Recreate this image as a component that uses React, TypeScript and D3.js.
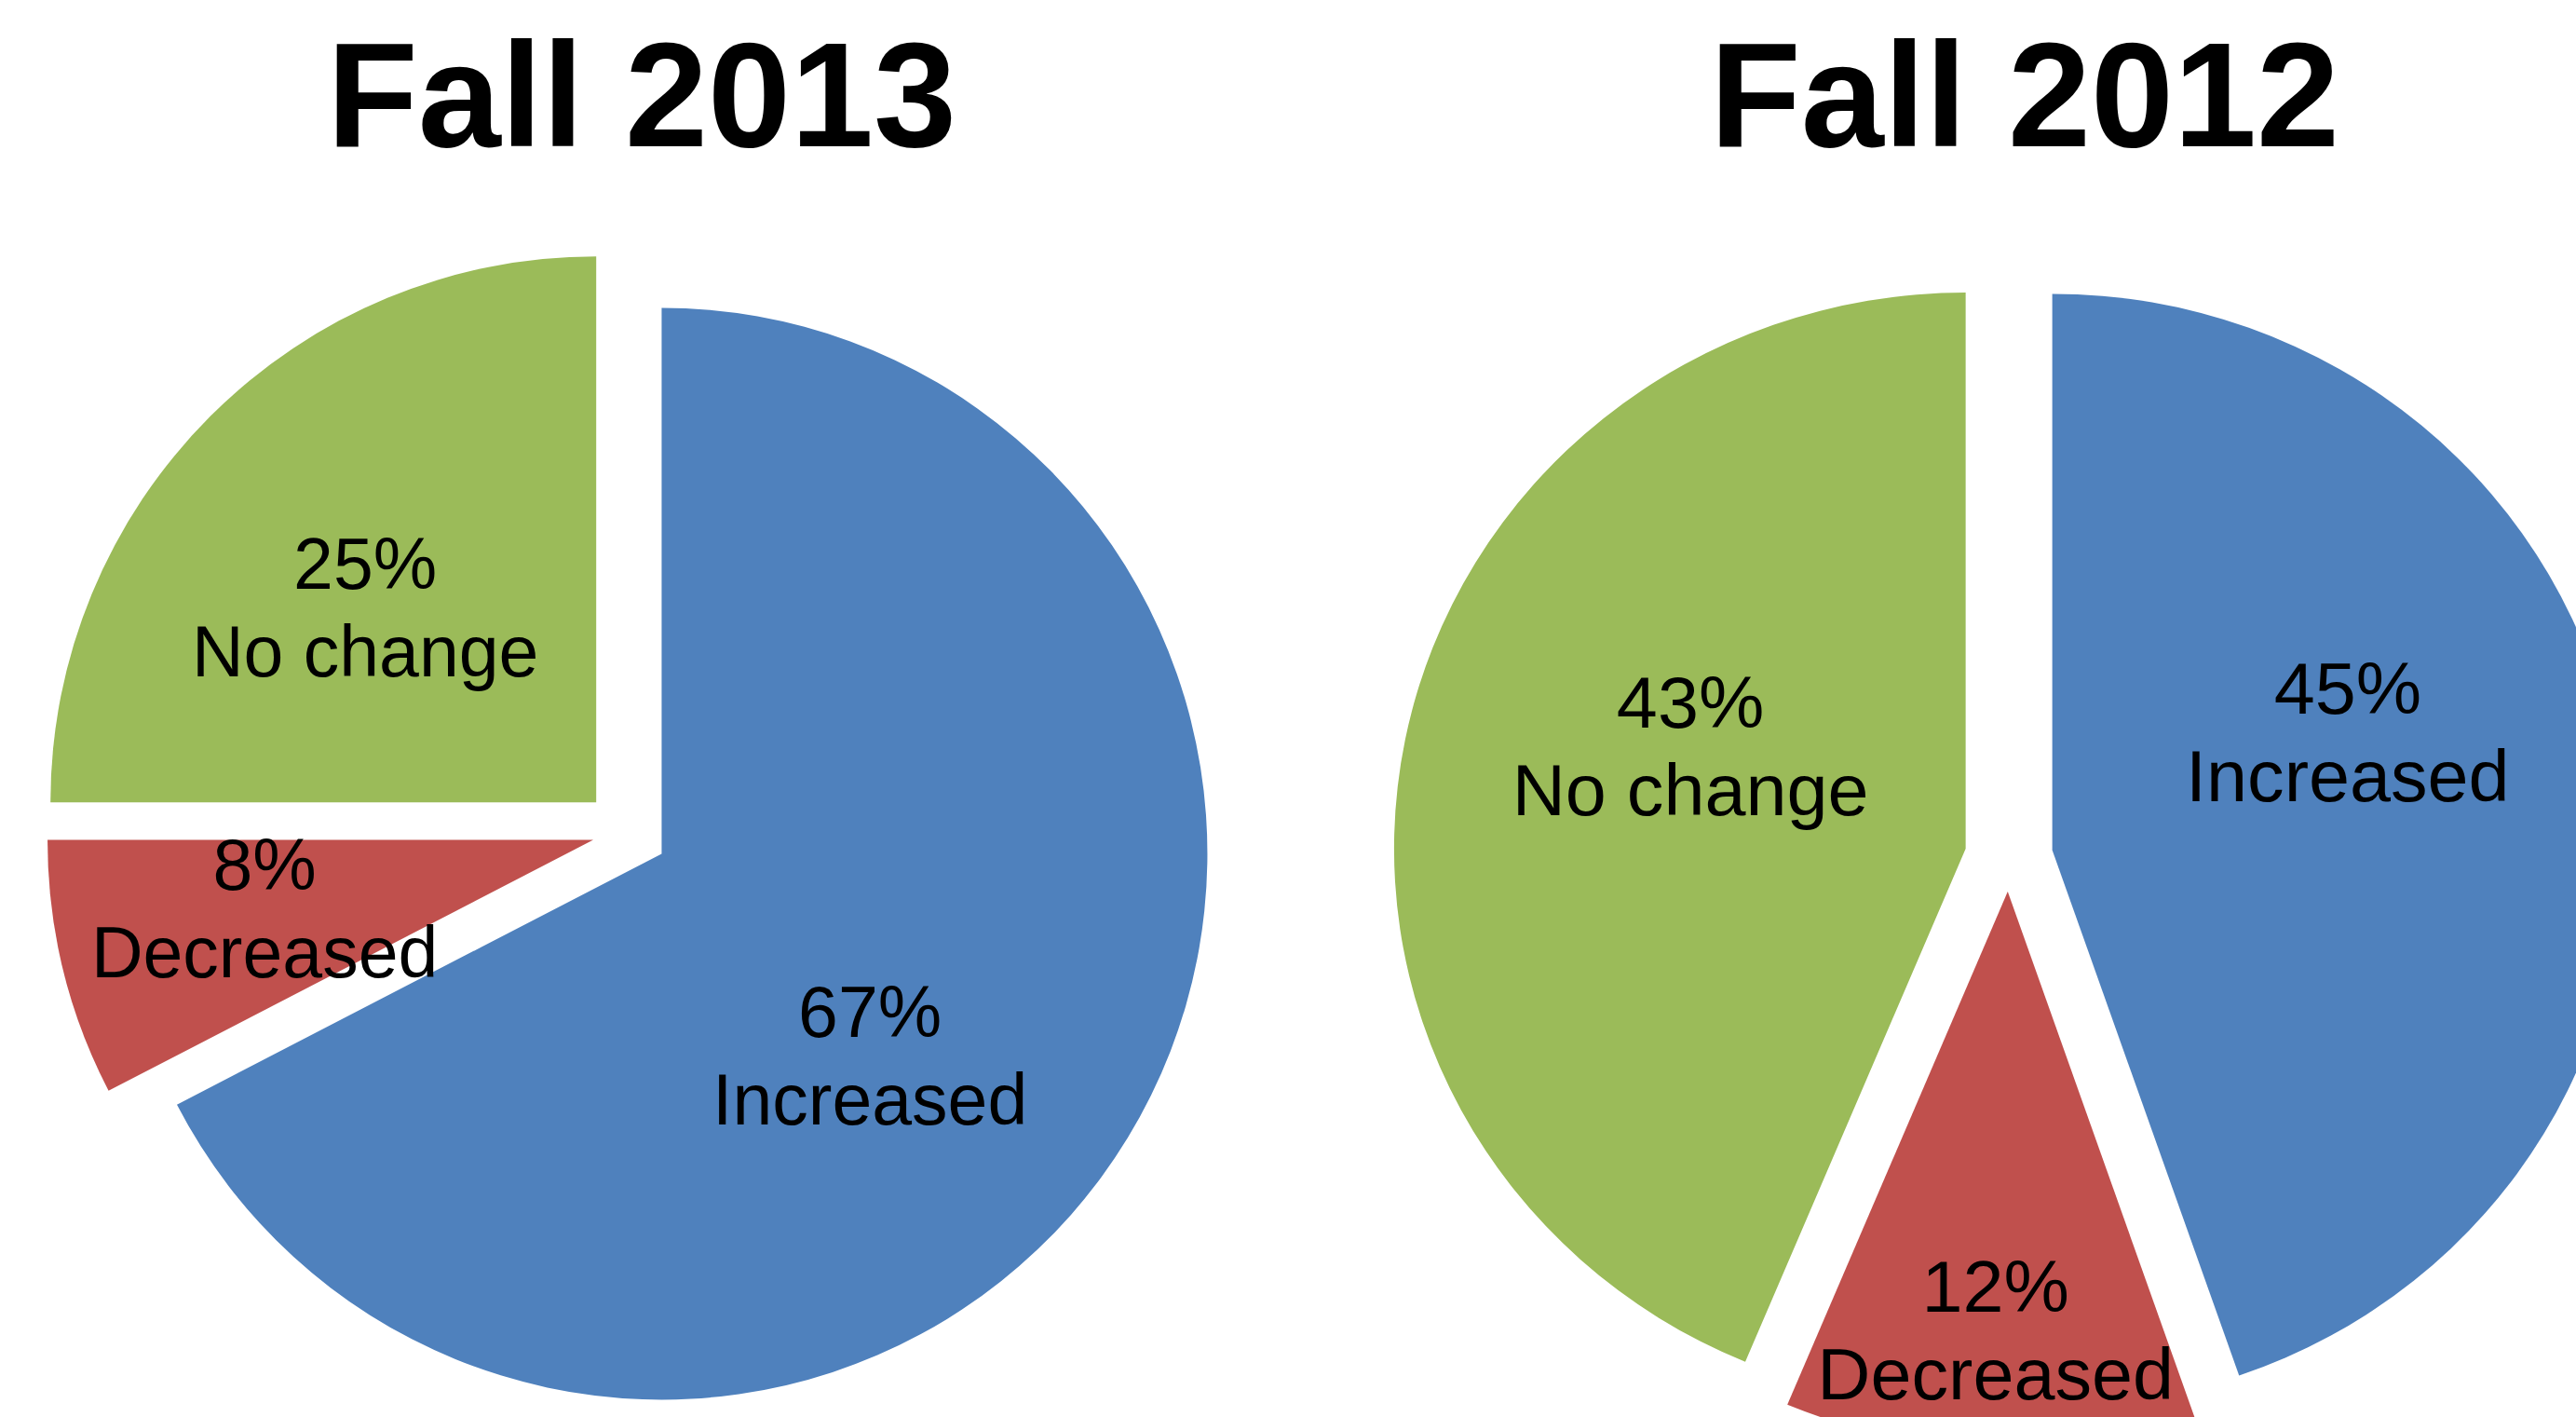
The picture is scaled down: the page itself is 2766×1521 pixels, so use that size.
import React, { useRef, useEffect } from "react";
import * as d3 from "d3";

const categories = ["Increased", "Decreased", "No change"];
// slice shares
const fall2013 = [67.4, 7.6, 25];
const fall2012 = [44.7, 11.6, 43.7];
// percentages as printed on the slices
const labels2013 = ["67%", "8%", "25%"];
const labels2012 = ["45%", "12%", "43%"];
const colors = ["#4F81BD", "#C0504D", "#9BBB59"];

// where each label sits inside its slice: [angle shift (deg), radius fraction]
const labelNudge2013 = [
  [12.6, 0.53],
  [2.0, 0.615],
  [-4.7, 0.555],
];
const labelNudge2012 = [
  [-12.85, 0.559],
  [-0.25, 0.788],
  [9.7, 0.516],
];

const charts = [
  {
    title: "Fall 2013",
    values: fall2013,
    labels: labels2013,
    nudge: labelNudge2013,
    cx: 672,
    cy: 893,
    r: 586,
    explode: [45, 36, 45],
    sx: 1,
  },
  {
    title: "Fall 2012",
    values: fall2012,
    labels: labels2012,
    nudge: labelNudge2012,
    cx: 2157,
    cy: 920,
    r: 597,
    explode: [46, 37, 46],
    sx: 1.028,
  },
];

const W = 2766;
const H = 1521;

const App = () => {
  const svgRef = useRef<SVGSVGElement>(null);

  useEffect(() => {
    if (!svgRef.current) return;
    const svg = d3.select(svgRef.current);
    svg.selectAll("*").remove();

    svg.append("rect").attr("width", W).attr("height", H).attr("fill", "#ffffff");

    const pie = d3
      .pie<number>()
      .sort(null)
      .value((d) => d)
      .startAngle(0)
      .endAngle(2 * Math.PI);

    charts.forEach((c) => {
      // title
      svg
        .append("text")
        .attr("x", c.cx + 17)
        .attr("y", 157)
        .attr("text-anchor", "middle")
        .style("font-family", "'Liberation Sans', Arial, sans-serif")
        .style("font-weight", "bold")
        .style("font-size", "160px")
        .style("fill", "#000")
        .text(c.title);

      const arc = d3.arc<d3.PieArcDatum<number>>().innerRadius(0).outerRadius(c.r);
      const g = svg
        .append("g")
        .attr("transform", `translate(${c.cx},${c.cy}) scale(${c.sx},1)`);

      const arcs = pie(c.values);

      g.selectAll("path")
        .data(arcs)
        .enter()
        .append("path")
        .attr("d", arc)
        .attr("fill", (_d, i) => colors[i])
        .attr("transform", (d, i) => {
          const mid = (d.startAngle + d.endAngle) / 2;
          const e = c.explode[i];
          return `translate(${Math.sin(mid) * e},${-Math.cos(mid) * e})`;
        });

      const labels = g
        .selectAll("text.lbl")
        .data(arcs)
        .enter()
        .append("text")
        .attr("class", "lbl")
        .attr("text-anchor", "middle")
        .style("font-family", "'Liberation Sans', Arial, sans-serif")
        .style("font-size", "77px")
        .style("fill", "#000")
        .attr("transform", (d, i) => {
          const mid0 = (d.startAngle + d.endAngle) / 2;
          const mid = mid0 + (c.nudge[i][0] * Math.PI) / 180;
          const rr = c.nudge[i][1] * c.r;
          const e = c.explode[i];
          const x = Math.sin(mid0) * e + Math.sin(mid) * rr;
          const y = -Math.cos(mid0) * e - Math.cos(mid) * rr;
          return `translate(${x},${y - 19})`;
        });

      labels
        .append("tspan")
        .attr("x", 0)
        .attr("y", 0)
        .text((_d, i) => c.labels[i]);
      labels
        .append("tspan")
        .attr("x", 0)
        .attr("y", 94)
        .text((_d, i) => categories[i]);
    });
  }, []);

  return (
    <div style={{ position: "absolute", left: 0, top: 0, width: W, height: H, overflow: "hidden" }}>
      <svg ref={svgRef} width={W} height={H} style={{ display: "block" }}></svg>
    </div>
  );
};

export default App;
